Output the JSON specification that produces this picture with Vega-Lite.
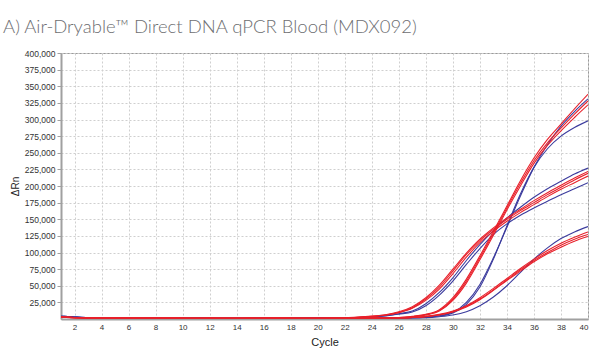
{
"$schema": "https://vega.github.io/schema/vega-lite/v6.json",
"width": 527, "height": 266,
"autosize": {"type": "none"},
"padding": {"left": 61, "top": 53, "right": 15, "bottom": 34},
"background": "white",
"title": {"text": "A) Air-Dryable™ Direct DNA qPCR Blood (MDX092)", "anchor": "start", "frame": "group", "dx": -58, "offset": 0, "dy": 2, "baseline": "alphabetic", "fontSize": 18.5, "font": "Lato", "fontWeight": 300, "color": "#6d6e71"},
"config": {
  "view": {"stroke": "#999999", "strokeWidth": 1},
  "axis": {"labelFont": "Liberation Sans", "titleFont": "Liberation Sans", "labelColor": "#333333", "titleColor": "#222222", "gridColor": "#cfcfcf", "gridDash": [2, 2], "gridWidth": 1, "domainColor": "#a0a0a0", "domainWidth": 2, "tickColor": "#a0a0a0"}
},
"datasets": {"d": [
{"s":"A4","g":"b","c":1,"v":4200},{"s":"A4","g":"b","c":2,"v":3000},{"s":"A4","g":"b","c":3,"v":2000},{"s":"A4","g":"b","c":4,"v":1600},{"s":"A4","g":"b","c":5,"v":1500},{"s":"A4","g":"b","c":6,"v":1700},{"s":"A4","g":"b","c":7,"v":1800},{"s":"A4","g":"b","c":8,"v":1300},{"s":"A4","g":"b","c":9,"v":1200},{"s":"A4","g":"b","c":10,"v":1200},{"s":"A4","g":"b","c":11,"v":1300},{"s":"A4","g":"b","c":12,"v":1200},{"s":"A4","g":"b","c":13,"v":1200},{"s":"A4","g":"b","c":14,"v":1100},{"s":"A4","g":"b","c":15,"v":1300},{"s":"A4","g":"b","c":16,"v":1200},{"s":"A4","g":"b","c":17,"v":1100},{"s":"A4","g":"b","c":18,"v":1200},{"s":"A4","g":"b","c":19,"v":1300},{"s":"A4","g":"b","c":20,"v":1900},{"s":"A4","g":"b","c":21,"v":1600},{"s":"A4","g":"b","c":22,"v":1500},{"s":"A4","g":"b","c":23,"v":2100},{"s":"A4","g":"b","c":24,"v":3200},{"s":"A4","g":"b","c":25,"v":5000},{"s":"A4","g":"b","c":26,"v":8000},{"s":"A4","g":"b","c":27,"v":12000},{"s":"A4","g":"b","c":28,"v":23000},{"s":"A4","g":"b","c":29,"v":40000},{"s":"A4","g":"b","c":30,"v":62000},{"s":"A4","g":"b","c":31,"v":88000},{"s":"A4","g":"b","c":32,"v":112000},{"s":"A4","g":"b","c":33,"v":133000},{"s":"A4","g":"b","c":34,"v":152000},{"s":"A4","g":"b","c":35,"v":168000},{"s":"A4","g":"b","c":36,"v":183000},{"s":"A4","g":"b","c":37,"v":196000},{"s":"A4","g":"b","c":38,"v":207000},{"s":"A4","g":"b","c":39,"v":218000},{"s":"A4","g":"b","c":40,"v":227000},
{"s":"A5","g":"b","c":1,"v":3800},{"s":"A5","g":"b","c":2,"v":2700},{"s":"A5","g":"b","c":3,"v":1900},{"s":"A5","g":"b","c":4,"v":1500},{"s":"A5","g":"b","c":5,"v":1400},{"s":"A5","g":"b","c":6,"v":1500},{"s":"A5","g":"b","c":7,"v":1600},{"s":"A5","g":"b","c":8,"v":1200},{"s":"A5","g":"b","c":9,"v":1100},{"s":"A5","g":"b","c":10,"v":1200},{"s":"A5","g":"b","c":11,"v":1200},{"s":"A5","g":"b","c":12,"v":1300},{"s":"A5","g":"b","c":13,"v":1100},{"s":"A5","g":"b","c":14,"v":1200},{"s":"A5","g":"b","c":15,"v":1200},{"s":"A5","g":"b","c":16,"v":1100},{"s":"A5","g":"b","c":17,"v":1200},{"s":"A5","g":"b","c":18,"v":1300},{"s":"A5","g":"b","c":19,"v":1200},{"s":"A5","g":"b","c":20,"v":1700},{"s":"A5","g":"b","c":21,"v":1500},{"s":"A5","g":"b","c":22,"v":1400},{"s":"A5","g":"b","c":23,"v":2000},{"s":"A5","g":"b","c":24,"v":3000},{"s":"A5","g":"b","c":25,"v":4600},{"s":"A5","g":"b","c":26,"v":7300},{"s":"A5","g":"b","c":27,"v":10500},{"s":"A5","g":"b","c":28,"v":20000},{"s":"A5","g":"b","c":29,"v":36000},{"s":"A5","g":"b","c":30,"v":57000},{"s":"A5","g":"b","c":31,"v":82000},{"s":"A5","g":"b","c":32,"v":106000},{"s":"A5","g":"b","c":33,"v":127000},{"s":"A5","g":"b","c":34,"v":143000},{"s":"A5","g":"b","c":35,"v":156000},{"s":"A5","g":"b","c":36,"v":167000},{"s":"A5","g":"b","c":37,"v":177000},{"s":"A5","g":"b","c":38,"v":187000},{"s":"A5","g":"b","c":39,"v":196000},{"s":"A5","g":"b","c":40,"v":205000},
{"s":"B4","g":"b","c":1,"v":3800},{"s":"B4","g":"b","c":2,"v":2700},{"s":"B4","g":"b","c":3,"v":1900},{"s":"B4","g":"b","c":4,"v":1500},{"s":"B4","g":"b","c":5,"v":1400},{"s":"B4","g":"b","c":6,"v":1500},{"s":"B4","g":"b","c":7,"v":1600},{"s":"B4","g":"b","c":8,"v":1200},{"s":"B4","g":"b","c":9,"v":1100},{"s":"B4","g":"b","c":10,"v":1200},{"s":"B4","g":"b","c":11,"v":1200},{"s":"B4","g":"b","c":12,"v":1300},{"s":"B4","g":"b","c":13,"v":1100},{"s":"B4","g":"b","c":14,"v":1200},{"s":"B4","g":"b","c":15,"v":1200},{"s":"B4","g":"b","c":16,"v":1100},{"s":"B4","g":"b","c":17,"v":1200},{"s":"B4","g":"b","c":18,"v":1300},{"s":"B4","g":"b","c":19,"v":1200},{"s":"B4","g":"b","c":20,"v":1700},{"s":"B4","g":"b","c":21,"v":1500},{"s":"B4","g":"b","c":22,"v":1000},{"s":"B4","g":"b","c":23,"v":1100},{"s":"B4","g":"b","c":24,"v":1200},{"s":"B4","g":"b","c":25,"v":1300},{"s":"B4","g":"b","c":26,"v":1500},{"s":"B4","g":"b","c":27,"v":2000},{"s":"B4","g":"b","c":28,"v":3000},{"s":"B4","g":"b","c":29,"v":5000},{"s":"B4","g":"b","c":30,"v":10000},{"s":"B4","g":"b","c":31,"v":25000},{"s":"B4","g":"b","c":32,"v":52000},{"s":"B4","g":"b","c":33,"v":92000},{"s":"B4","g":"b","c":34,"v":138000},{"s":"B4","g":"b","c":35,"v":185000},{"s":"B4","g":"b","c":36,"v":228000},{"s":"B4","g":"b","c":37,"v":262000},{"s":"B4","g":"b","c":38,"v":290000},{"s":"B4","g":"b","c":39,"v":312000},{"s":"B4","g":"b","c":40,"v":331000},
{"s":"B5","g":"b","c":1,"v":4200},{"s":"B5","g":"b","c":2,"v":3000},{"s":"B5","g":"b","c":3,"v":2000},{"s":"B5","g":"b","c":4,"v":1600},{"s":"B5","g":"b","c":5,"v":1500},{"s":"B5","g":"b","c":6,"v":1700},{"s":"B5","g":"b","c":7,"v":1800},{"s":"B5","g":"b","c":8,"v":1300},{"s":"B5","g":"b","c":9,"v":1200},{"s":"B5","g":"b","c":10,"v":1200},{"s":"B5","g":"b","c":11,"v":1300},{"s":"B5","g":"b","c":12,"v":1200},{"s":"B5","g":"b","c":13,"v":1200},{"s":"B5","g":"b","c":14,"v":1100},{"s":"B5","g":"b","c":15,"v":1300},{"s":"B5","g":"b","c":16,"v":1200},{"s":"B5","g":"b","c":17,"v":1100},{"s":"B5","g":"b","c":18,"v":1200},{"s":"B5","g":"b","c":19,"v":1300},{"s":"B5","g":"b","c":20,"v":1900},{"s":"B5","g":"b","c":21,"v":1600},{"s":"B5","g":"b","c":22,"v":1000},{"s":"B5","g":"b","c":23,"v":1100},{"s":"B5","g":"b","c":24,"v":1200},{"s":"B5","g":"b","c":25,"v":1300},{"s":"B5","g":"b","c":26,"v":1400},{"s":"B5","g":"b","c":27,"v":1800},{"s":"B5","g":"b","c":28,"v":2800},{"s":"B5","g":"b","c":29,"v":4500},{"s":"B5","g":"b","c":30,"v":9000},{"s":"B5","g":"b","c":31,"v":22000},{"s":"B5","g":"b","c":32,"v":48000},{"s":"B5","g":"b","c":33,"v":90000},{"s":"B5","g":"b","c":34,"v":140000},{"s":"B5","g":"b","c":35,"v":188000},{"s":"B5","g":"b","c":36,"v":228000},{"s":"B5","g":"b","c":37,"v":256000},{"s":"B5","g":"b","c":38,"v":275000},{"s":"B5","g":"b","c":39,"v":288000},{"s":"B5","g":"b","c":40,"v":298000},
{"s":"C4","g":"b","c":1,"v":4200},{"s":"C4","g":"b","c":2,"v":3000},{"s":"C4","g":"b","c":3,"v":2000},{"s":"C4","g":"b","c":4,"v":1600},{"s":"C4","g":"b","c":5,"v":1500},{"s":"C4","g":"b","c":6,"v":1700},{"s":"C4","g":"b","c":7,"v":1800},{"s":"C4","g":"b","c":8,"v":1300},{"s":"C4","g":"b","c":9,"v":1200},{"s":"C4","g":"b","c":10,"v":1200},{"s":"C4","g":"b","c":11,"v":1300},{"s":"C4","g":"b","c":12,"v":1200},{"s":"C4","g":"b","c":13,"v":1200},{"s":"C4","g":"b","c":14,"v":1100},{"s":"C4","g":"b","c":15,"v":1300},{"s":"C4","g":"b","c":16,"v":1200},{"s":"C4","g":"b","c":17,"v":1100},{"s":"C4","g":"b","c":18,"v":1200},{"s":"C4","g":"b","c":19,"v":1300},{"s":"C4","g":"b","c":20,"v":1900},{"s":"C4","g":"b","c":21,"v":1600},{"s":"C4","g":"b","c":22,"v":1000},{"s":"C4","g":"b","c":23,"v":1000},{"s":"C4","g":"b","c":24,"v":1100},{"s":"C4","g":"b","c":25,"v":1200},{"s":"C4","g":"b","c":26,"v":1300},{"s":"C4","g":"b","c":27,"v":1600},{"s":"C4","g":"b","c":28,"v":2000},{"s":"C4","g":"b","c":29,"v":3500},{"s":"C4","g":"b","c":30,"v":6000},{"s":"C4","g":"b","c":31,"v":11000},{"s":"C4","g":"b","c":32,"v":20000},{"s":"C4","g":"b","c":33,"v":33000},{"s":"C4","g":"b","c":34,"v":50000},{"s":"C4","g":"b","c":35,"v":70000},{"s":"C4","g":"b","c":36,"v":90000},{"s":"C4","g":"b","c":37,"v":107000},{"s":"C4","g":"b","c":38,"v":121000},{"s":"C4","g":"b","c":39,"v":131000},{"s":"C4","g":"b","c":40,"v":139000},
{"s":"A1","g":"r","c":1,"v":2800},{"s":"A1","g":"r","c":2,"v":2100},{"s":"A1","g":"r","c":3,"v":1700},{"s":"A1","g":"r","c":4,"v":1500},{"s":"A1","g":"r","c":5,"v":1400},{"s":"A1","g":"r","c":6,"v":1300},{"s":"A1","g":"r","c":7,"v":1400},{"s":"A1","g":"r","c":8,"v":1200},{"s":"A1","g":"r","c":9,"v":1600},{"s":"A1","g":"r","c":10,"v":1300},{"s":"A1","g":"r","c":11,"v":1100},{"s":"A1","g":"r","c":12,"v":1300},{"s":"A1","g":"r","c":13,"v":1100},{"s":"A1","g":"r","c":14,"v":1000},{"s":"A1","g":"r","c":15,"v":1300},{"s":"A1","g":"r","c":16,"v":1100},{"s":"A1","g":"r","c":17,"v":1400},{"s":"A1","g":"r","c":18,"v":1200},{"s":"A1","g":"r","c":19,"v":1000},{"s":"A1","g":"r","c":20,"v":1100},{"s":"A1","g":"r","c":21,"v":1300},{"s":"A1","g":"r","c":22,"v":1800},{"s":"A1","g":"r","c":23,"v":2600},{"s":"A1","g":"r","c":24,"v":4000},{"s":"A1","g":"r","c":25,"v":6000},{"s":"A1","g":"r","c":26,"v":10000},{"s":"A1","g":"r","c":27,"v":17000},{"s":"A1","g":"r","c":28,"v":30000},{"s":"A1","g":"r","c":29,"v":48000},{"s":"A1","g":"r","c":30,"v":72000},{"s":"A1","g":"r","c":31,"v":97000},{"s":"A1","g":"r","c":32,"v":118000},{"s":"A1","g":"r","c":33,"v":135000},{"s":"A1","g":"r","c":34,"v":150000},{"s":"A1","g":"r","c":35,"v":163000},{"s":"A1","g":"r","c":36,"v":175000},{"s":"A1","g":"r","c":37,"v":187000},{"s":"A1","g":"r","c":38,"v":198000},{"s":"A1","g":"r","c":39,"v":209000},{"s":"A1","g":"r","c":40,"v":219000},
{"s":"A2","g":"r","c":1,"v":2500},{"s":"A2","g":"r","c":2,"v":2000},{"s":"A2","g":"r","c":3,"v":1600},{"s":"A2","g":"r","c":4,"v":1400},{"s":"A2","g":"r","c":5,"v":1300},{"s":"A2","g":"r","c":6,"v":1200},{"s":"A2","g":"r","c":7,"v":1300},{"s":"A2","g":"r","c":8,"v":1300},{"s":"A2","g":"r","c":9,"v":1400},{"s":"A2","g":"r","c":10,"v":1200},{"s":"A2","g":"r","c":11,"v":1200},{"s":"A2","g":"r","c":12,"v":1100},{"s":"A2","g":"r","c":13,"v":1200},{"s":"A2","g":"r","c":14,"v":1100},{"s":"A2","g":"r","c":15,"v":1200},{"s":"A2","g":"r","c":16,"v":1200},{"s":"A2","g":"r","c":17,"v":1300},{"s":"A2","g":"r","c":18,"v":1300},{"s":"A2","g":"r","c":19,"v":1100},{"s":"A2","g":"r","c":20,"v":1200},{"s":"A2","g":"r","c":21,"v":1200},{"s":"A2","g":"r","c":22,"v":1700},{"s":"A2","g":"r","c":23,"v":2400},{"s":"A2","g":"r","c":24,"v":3700},{"s":"A2","g":"r","c":25,"v":5600},{"s":"A2","g":"r","c":26,"v":9300},{"s":"A2","g":"r","c":27,"v":16000},{"s":"A2","g":"r","c":28,"v":28000},{"s":"A2","g":"r","c":29,"v":45000},{"s":"A2","g":"r","c":30,"v":68000},{"s":"A2","g":"r","c":31,"v":93000},{"s":"A2","g":"r","c":32,"v":115000},{"s":"A2","g":"r","c":33,"v":132000},{"s":"A2","g":"r","c":34,"v":147000},{"s":"A2","g":"r","c":35,"v":160000},{"s":"A2","g":"r","c":36,"v":172000},{"s":"A2","g":"r","c":37,"v":184000},{"s":"A2","g":"r","c":38,"v":195000},{"s":"A2","g":"r","c":39,"v":205000},{"s":"A2","g":"r","c":40,"v":215000},
{"s":"A3","g":"r","c":1,"v":3000},{"s":"A3","g":"r","c":2,"v":2300},{"s":"A3","g":"r","c":3,"v":1800},{"s":"A3","g":"r","c":4,"v":1400},{"s":"A3","g":"r","c":5,"v":1300},{"s":"A3","g":"r","c":6,"v":1400},{"s":"A3","g":"r","c":7,"v":1200},{"s":"A3","g":"r","c":8,"v":1300},{"s":"A3","g":"r","c":9,"v":1500},{"s":"A3","g":"r","c":10,"v":1100},{"s":"A3","g":"r","c":11,"v":1200},{"s":"A3","g":"r","c":12,"v":1200},{"s":"A3","g":"r","c":13,"v":1000},{"s":"A3","g":"r","c":14,"v":1100},{"s":"A3","g":"r","c":15,"v":1100},{"s":"A3","g":"r","c":16,"v":1300},{"s":"A3","g":"r","c":17,"v":1200},{"s":"A3","g":"r","c":18,"v":1100},{"s":"A3","g":"r","c":19,"v":1200},{"s":"A3","g":"r","c":20,"v":1000},{"s":"A3","g":"r","c":21,"v":1100},{"s":"A3","g":"r","c":22,"v":1900},{"s":"A3","g":"r","c":23,"v":2800},{"s":"A3","g":"r","c":24,"v":4300},{"s":"A3","g":"r","c":25,"v":6500},{"s":"A3","g":"r","c":26,"v":10800},{"s":"A3","g":"r","c":27,"v":18500},{"s":"A3","g":"r","c":28,"v":32000},{"s":"A3","g":"r","c":29,"v":51000},{"s":"A3","g":"r","c":30,"v":75000},{"s":"A3","g":"r","c":31,"v":99000},{"s":"A3","g":"r","c":32,"v":120000},{"s":"A3","g":"r","c":33,"v":137000},{"s":"A3","g":"r","c":34,"v":152000},{"s":"A3","g":"r","c":35,"v":165000},{"s":"A3","g":"r","c":36,"v":178000},{"s":"A3","g":"r","c":37,"v":190000},{"s":"A3","g":"r","c":38,"v":201000},{"s":"A3","g":"r","c":39,"v":212000},{"s":"A3","g":"r","c":40,"v":222000},
{"s":"B1","g":"r","c":1,"v":2500},{"s":"B1","g":"r","c":2,"v":2000},{"s":"B1","g":"r","c":3,"v":1600},{"s":"B1","g":"r","c":4,"v":1400},{"s":"B1","g":"r","c":5,"v":1300},{"s":"B1","g":"r","c":6,"v":1200},{"s":"B1","g":"r","c":7,"v":1300},{"s":"B1","g":"r","c":8,"v":1300},{"s":"B1","g":"r","c":9,"v":1400},{"s":"B1","g":"r","c":10,"v":1200},{"s":"B1","g":"r","c":11,"v":1200},{"s":"B1","g":"r","c":12,"v":1100},{"s":"B1","g":"r","c":13,"v":1200},{"s":"B1","g":"r","c":14,"v":1100},{"s":"B1","g":"r","c":15,"v":1200},{"s":"B1","g":"r","c":16,"v":1200},{"s":"B1","g":"r","c":17,"v":1300},{"s":"B1","g":"r","c":18,"v":1300},{"s":"B1","g":"r","c":19,"v":1100},{"s":"B1","g":"r","c":20,"v":1200},{"s":"B1","g":"r","c":21,"v":1200},{"s":"B1","g":"r","c":22,"v":1200},{"s":"B1","g":"r","c":23,"v":1300},{"s":"B1","g":"r","c":24,"v":1500},{"s":"B1","g":"r","c":25,"v":1800},{"s":"B1","g":"r","c":26,"v":2200},{"s":"B1","g":"r","c":27,"v":4000},{"s":"B1","g":"r","c":28,"v":7000},{"s":"B1","g":"r","c":29,"v":14000},{"s":"B1","g":"r","c":30,"v":32000},{"s":"B1","g":"r","c":31,"v":60000},{"s":"B1","g":"r","c":32,"v":95000},{"s":"B1","g":"r","c":33,"v":132000},{"s":"B1","g":"r","c":34,"v":170000},{"s":"B1","g":"r","c":35,"v":208000},{"s":"B1","g":"r","c":36,"v":242000},{"s":"B1","g":"r","c":37,"v":270000},{"s":"B1","g":"r","c":38,"v":293000},{"s":"B1","g":"r","c":39,"v":316000},{"s":"B1","g":"r","c":40,"v":338000},
{"s":"B2","g":"r","c":1,"v":3000},{"s":"B2","g":"r","c":2,"v":2300},{"s":"B2","g":"r","c":3,"v":1800},{"s":"B2","g":"r","c":4,"v":1400},{"s":"B2","g":"r","c":5,"v":1300},{"s":"B2","g":"r","c":6,"v":1400},{"s":"B2","g":"r","c":7,"v":1200},{"s":"B2","g":"r","c":8,"v":1300},{"s":"B2","g":"r","c":9,"v":1500},{"s":"B2","g":"r","c":10,"v":1100},{"s":"B2","g":"r","c":11,"v":1200},{"s":"B2","g":"r","c":12,"v":1200},{"s":"B2","g":"r","c":13,"v":1000},{"s":"B2","g":"r","c":14,"v":1100},{"s":"B2","g":"r","c":15,"v":1100},{"s":"B2","g":"r","c":16,"v":1300},{"s":"B2","g":"r","c":17,"v":1200},{"s":"B2","g":"r","c":18,"v":1100},{"s":"B2","g":"r","c":19,"v":1200},{"s":"B2","g":"r","c":20,"v":1000},{"s":"B2","g":"r","c":21,"v":1100},{"s":"B2","g":"r","c":22,"v":1100},{"s":"B2","g":"r","c":23,"v":1200},{"s":"B2","g":"r","c":24,"v":1400},{"s":"B2","g":"r","c":25,"v":1700},{"s":"B2","g":"r","c":26,"v":2100},{"s":"B2","g":"r","c":27,"v":3700},{"s":"B2","g":"r","c":28,"v":6500},{"s":"B2","g":"r","c":29,"v":13000},{"s":"B2","g":"r","c":30,"v":30000},{"s":"B2","g":"r","c":31,"v":57000},{"s":"B2","g":"r","c":32,"v":92000},{"s":"B2","g":"r","c":33,"v":129000},{"s":"B2","g":"r","c":34,"v":167000},{"s":"B2","g":"r","c":35,"v":204000},{"s":"B2","g":"r","c":36,"v":238000},{"s":"B2","g":"r","c":37,"v":265000},{"s":"B2","g":"r","c":38,"v":287000},{"s":"B2","g":"r","c":39,"v":308000},{"s":"B2","g":"r","c":40,"v":328000},
{"s":"B3","g":"r","c":1,"v":2800},{"s":"B3","g":"r","c":2,"v":2100},{"s":"B3","g":"r","c":3,"v":1700},{"s":"B3","g":"r","c":4,"v":1500},{"s":"B3","g":"r","c":5,"v":1400},{"s":"B3","g":"r","c":6,"v":1300},{"s":"B3","g":"r","c":7,"v":1400},{"s":"B3","g":"r","c":8,"v":1200},{"s":"B3","g":"r","c":9,"v":1600},{"s":"B3","g":"r","c":10,"v":1300},{"s":"B3","g":"r","c":11,"v":1100},{"s":"B3","g":"r","c":12,"v":1300},{"s":"B3","g":"r","c":13,"v":1100},{"s":"B3","g":"r","c":14,"v":1000},{"s":"B3","g":"r","c":15,"v":1300},{"s":"B3","g":"r","c":16,"v":1100},{"s":"B3","g":"r","c":17,"v":1400},{"s":"B3","g":"r","c":18,"v":1200},{"s":"B3","g":"r","c":19,"v":1000},{"s":"B3","g":"r","c":20,"v":1100},{"s":"B3","g":"r","c":21,"v":1300},{"s":"B3","g":"r","c":22,"v":1200},{"s":"B3","g":"r","c":23,"v":1300},{"s":"B3","g":"r","c":24,"v":1400},{"s":"B3","g":"r","c":25,"v":1700},{"s":"B3","g":"r","c":26,"v":2000},{"s":"B3","g":"r","c":27,"v":3500},{"s":"B3","g":"r","c":28,"v":6000},{"s":"B3","g":"r","c":29,"v":12000},{"s":"B3","g":"r","c":30,"v":28000},{"s":"B3","g":"r","c":31,"v":54000},{"s":"B3","g":"r","c":32,"v":89000},{"s":"B3","g":"r","c":33,"v":126000},{"s":"B3","g":"r","c":34,"v":164000},{"s":"B3","g":"r","c":35,"v":200000},{"s":"B3","g":"r","c":36,"v":234000},{"s":"B3","g":"r","c":37,"v":261000},{"s":"B3","g":"r","c":38,"v":283000},{"s":"B3","g":"r","c":39,"v":303000},{"s":"B3","g":"r","c":40,"v":322000},
{"s":"C1","g":"r","c":1,"v":3000},{"s":"C1","g":"r","c":2,"v":2300},{"s":"C1","g":"r","c":3,"v":1800},{"s":"C1","g":"r","c":4,"v":1400},{"s":"C1","g":"r","c":5,"v":1300},{"s":"C1","g":"r","c":6,"v":1400},{"s":"C1","g":"r","c":7,"v":1200},{"s":"C1","g":"r","c":8,"v":1300},{"s":"C1","g":"r","c":9,"v":1500},{"s":"C1","g":"r","c":10,"v":1100},{"s":"C1","g":"r","c":11,"v":1200},{"s":"C1","g":"r","c":12,"v":1200},{"s":"C1","g":"r","c":13,"v":1000},{"s":"C1","g":"r","c":14,"v":1100},{"s":"C1","g":"r","c":15,"v":1100},{"s":"C1","g":"r","c":16,"v":1300},{"s":"C1","g":"r","c":17,"v":1200},{"s":"C1","g":"r","c":18,"v":1100},{"s":"C1","g":"r","c":19,"v":1200},{"s":"C1","g":"r","c":20,"v":1000},{"s":"C1","g":"r","c":21,"v":1100},{"s":"C1","g":"r","c":22,"v":1100},{"s":"C1","g":"r","c":23,"v":1200},{"s":"C1","g":"r","c":24,"v":1300},{"s":"C1","g":"r","c":25,"v":1400},{"s":"C1","g":"r","c":26,"v":1500},{"s":"C1","g":"r","c":27,"v":2500},{"s":"C1","g":"r","c":28,"v":4000},{"s":"C1","g":"r","c":29,"v":7000},{"s":"C1","g":"r","c":30,"v":12000},{"s":"C1","g":"r","c":31,"v":20000},{"s":"C1","g":"r","c":32,"v":32000},{"s":"C1","g":"r","c":33,"v":46000},{"s":"C1","g":"r","c":34,"v":61000},{"s":"C1","g":"r","c":35,"v":76000},{"s":"C1","g":"r","c":36,"v":90000},{"s":"C1","g":"r","c":37,"v":103000},{"s":"C1","g":"r","c":38,"v":114000},{"s":"C1","g":"r","c":39,"v":123000},{"s":"C1","g":"r","c":40,"v":131000},
{"s":"C2","g":"r","c":1,"v":2800},{"s":"C2","g":"r","c":2,"v":2100},{"s":"C2","g":"r","c":3,"v":1700},{"s":"C2","g":"r","c":4,"v":1500},{"s":"C2","g":"r","c":5,"v":1400},{"s":"C2","g":"r","c":6,"v":1300},{"s":"C2","g":"r","c":7,"v":1400},{"s":"C2","g":"r","c":8,"v":1200},{"s":"C2","g":"r","c":9,"v":1600},{"s":"C2","g":"r","c":10,"v":1300},{"s":"C2","g":"r","c":11,"v":1100},{"s":"C2","g":"r","c":12,"v":1300},{"s":"C2","g":"r","c":13,"v":1100},{"s":"C2","g":"r","c":14,"v":1000},{"s":"C2","g":"r","c":15,"v":1300},{"s":"C2","g":"r","c":16,"v":1100},{"s":"C2","g":"r","c":17,"v":1400},{"s":"C2","g":"r","c":18,"v":1200},{"s":"C2","g":"r","c":19,"v":1000},{"s":"C2","g":"r","c":20,"v":1100},{"s":"C2","g":"r","c":21,"v":1300},{"s":"C2","g":"r","c":22,"v":1000},{"s":"C2","g":"r","c":23,"v":1100},{"s":"C2","g":"r","c":24,"v":1200},{"s":"C2","g":"r","c":25,"v":1300},{"s":"C2","g":"r","c":26,"v":1400},{"s":"C2","g":"r","c":27,"v":2300},{"s":"C2","g":"r","c":28,"v":3700},{"s":"C2","g":"r","c":29,"v":6500},{"s":"C2","g":"r","c":30,"v":11000},{"s":"C2","g":"r","c":31,"v":19000},{"s":"C2","g":"r","c":32,"v":30000},{"s":"C2","g":"r","c":33,"v":44000},{"s":"C2","g":"r","c":34,"v":59000},{"s":"C2","g":"r","c":35,"v":74000},{"s":"C2","g":"r","c":36,"v":88000},{"s":"C2","g":"r","c":37,"v":100000},{"s":"C2","g":"r","c":38,"v":111000},{"s":"C2","g":"r","c":39,"v":120000},{"s":"C2","g":"r","c":40,"v":127000},
{"s":"C3","g":"r","c":1,"v":2500},{"s":"C3","g":"r","c":2,"v":2000},{"s":"C3","g":"r","c":3,"v":1600},{"s":"C3","g":"r","c":4,"v":1400},{"s":"C3","g":"r","c":5,"v":1300},{"s":"C3","g":"r","c":6,"v":1200},{"s":"C3","g":"r","c":7,"v":1300},{"s":"C3","g":"r","c":8,"v":1300},{"s":"C3","g":"r","c":9,"v":1400},{"s":"C3","g":"r","c":10,"v":1200},{"s":"C3","g":"r","c":11,"v":1200},{"s":"C3","g":"r","c":12,"v":1100},{"s":"C3","g":"r","c":13,"v":1200},{"s":"C3","g":"r","c":14,"v":1100},{"s":"C3","g":"r","c":15,"v":1200},{"s":"C3","g":"r","c":16,"v":1200},{"s":"C3","g":"r","c":17,"v":1300},{"s":"C3","g":"r","c":18,"v":1300},{"s":"C3","g":"r","c":19,"v":1100},{"s":"C3","g":"r","c":20,"v":1200},{"s":"C3","g":"r","c":21,"v":1200},{"s":"C3","g":"r","c":22,"v":1100},{"s":"C3","g":"r","c":23,"v":1100},{"s":"C3","g":"r","c":24,"v":1200},{"s":"C3","g":"r","c":25,"v":1300},{"s":"C3","g":"r","c":26,"v":1400},{"s":"C3","g":"r","c":27,"v":2200},{"s":"C3","g":"r","c":28,"v":3500},{"s":"C3","g":"r","c":29,"v":6000},{"s":"C3","g":"r","c":30,"v":10500},{"s":"C3","g":"r","c":31,"v":18000},{"s":"C3","g":"r","c":32,"v":29000},{"s":"C3","g":"r","c":33,"v":43000},{"s":"C3","g":"r","c":34,"v":58000},{"s":"C3","g":"r","c":35,"v":72000},{"s":"C3","g":"r","c":36,"v":86000},{"s":"C3","g":"r","c":37,"v":98000},{"s":"C3","g":"r","c":38,"v":108000},{"s":"C3","g":"r","c":39,"v":117000},{"s":"C3","g":"r","c":40,"v":124000}
]},
"data": {"name": "d"},
"mark": {"type": "line", "strokeWidth": 1.1, "interpolate": "monotone", "clip": true},
"encoding": {
  "x": {"field": "c", "type": "quantitative", "scale": {"domain": [1, 40], "nice": false, "zero": false},
    "axis": {"values": [2,4,6,8,10,12,14,16,18,20,22,24,26,28,30,32,34,36,38,40], "title": "Cycle", "titleFontSize": 11, "titleFontWeight": "normal", "titlePadding": 5, "labelFontSize": 8, "ticks": false, "labelPadding": 4, "grid": true}},
  "y": {"field": "v", "type": "quantitative", "scale": {"domain": [0, 400000], "nice": false},
    "axis": {"values": [25000,50000,75000,100000,125000,150000,175000,200000,225000,250000,275000,300000,325000,350000,375000,400000], "format": ",d", "title": "ΔRn", "titleFontSize": 10, "titleFontWeight": "normal", "titlePadding": 4, "labelFontSize": 8.5, "tickSize": 4, "labelPadding": 2, "grid": true}},
  "color": {"field": "g", "type": "nominal", "scale": {"domain": ["b", "r"], "range": ["#3b3b9d", "#e8202a"]}, "legend": null},
  "detail": {"field": "s", "type": "nominal"}
}
}
